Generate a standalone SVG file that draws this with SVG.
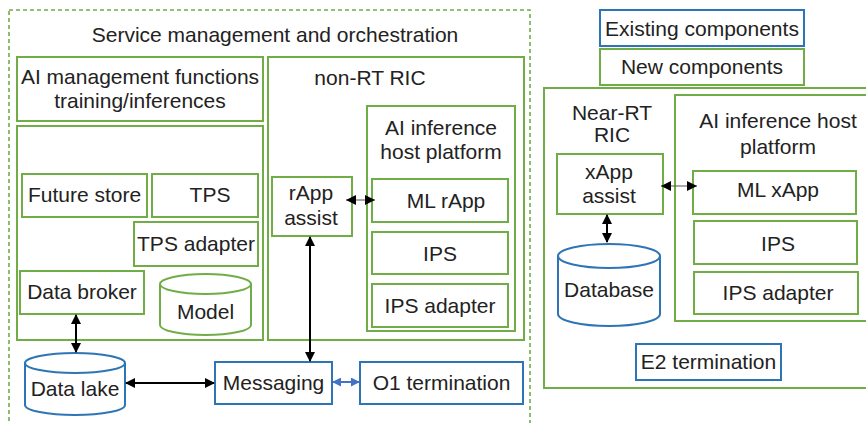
<svg xmlns="http://www.w3.org/2000/svg" width="866" height="423" viewBox="0 0 866 423">
  <style>
    .g { fill: #fff; stroke: #70AD47; stroke-width: 2; }
    .b { fill: #fff; stroke: #2E75B6; stroke-width: 2; }
    .dash { fill: none; stroke: #70AD47; stroke-width: 1.6; stroke-dasharray: 4 3; }
    text { font-family: "Liberation Sans", Arial, sans-serif; font-size: 21px; fill: #222; text-anchor: middle; }
    .c { fill: none; stroke: #000; stroke-width: 2; }
    .thin { fill: none; stroke: #555; stroke-width: 1; }
    .cb { fill: none; stroke: #4472C4; stroke-width: 2; }
  </style>
  <defs>
    <marker id="ah" viewBox="0 0 10 10" refX="9" refY="5" markerWidth="5" markerHeight="5" orient="auto-start-reverse" markerUnits="strokeWidth">
      <path d="M0,0 L10,5 L0,10 z" fill="#000"/>
    </marker>
    <marker id="ahs" viewBox="0 0 10 10" refX="10" refY="5" markerWidth="10" markerHeight="10" orient="auto-start-reverse" markerUnits="userSpaceOnUse">
      <path d="M0,0 L10,5 L0,10 z" fill="#000"/>
    </marker>
    <marker id="ahb" viewBox="0 0 10 10" refX="9" refY="5" markerWidth="4.5" markerHeight="4.5" orient="auto-start-reverse" markerUnits="strokeWidth">
      <path d="M0,0 L10,5 L0,10 z" fill="#4472C4"/>
    </marker>
  </defs>

  <!-- Service management and orchestration frame -->
  <g id="smo">
    <rect class="dash" x="9" y="10" width="521" height="430"/>
    <text x="275" y="42">Service management and orchestration</text>
  </g>

  <g id="ai-mgmt">
    <rect class="g" x="17" y="57" width="246" height="64"/>
    <text x="140" y="84">AI management functions</text>
    <text x="140" y="108">training/inferences</text>
  </g>

  <g id="ai-mgmt-body">
    <rect class="g" x="17" y="126" width="246" height="214"/>
  </g>

  <g id="future-store">
    <rect class="g" x="22" y="174" width="125" height="43"/>
    <text x="84.5" y="202">Future store</text>
  </g>
  <g id="tps">
    <rect class="g" x="152" y="174" width="106" height="43"/>
    <text x="210" y="202">TPS</text>
  </g>
  <g id="tps-adapter">
    <rect class="g" x="134" y="222" width="124" height="44"/>
    <text x="196" y="251">TPS adapter</text>
  </g>
  <g id="data-broker">
    <rect class="g" x="20" y="271" width="124" height="43"/>
    <text x="82" y="299">Data broker</text>
  </g>
  <g id="model">
    <path class="g" d="M160,284 A45.5,10 0 0 1 251,284 L251,325 A45.5,10 0 0 1 160,325 Z"/>
    <path class="g" d="M160,284 A45.5,10 0 0 0 251,284" fill="none"/>
    <text x="205.5" y="319">Model</text>
  </g>

  <g id="data-lake">
    <path class="b" d="M25,363 A50,10 0 0 1 125,363 L125,405 A50,10 0 0 1 25,405 Z"/>
    <path class="b" d="M25,363 A50,10 0 0 0 125,363" fill="none"/>
    <text x="75" y="396">Data lake</text>
  </g>

  <g id="messaging">
    <rect class="b" x="215" y="362" width="117" height="42"/>
    <text x="273.5" y="390">Messaging</text>
  </g>
  <g id="o1-termination">
    <rect class="b" x="360" y="362" width="163" height="42"/>
    <text x="441.5" y="390">O1 termination</text>
  </g>

  <!-- non-RT RIC -->
  <g id="non-rt-ric">
    <rect class="g" x="268" y="57" width="256" height="283"/>
    <text x="370" y="85">non-RT RIC</text>
  </g>
  <g id="ai-host-nonrt">
    <rect class="g" x="367" y="106" width="148" height="225"/>
    <text x="441" y="135">AI inference</text>
    <text x="441" y="159">host platform</text>
  </g>
  <g id="ml-rapp">
    <rect class="g" x="372" y="179" width="136" height="43"/>
    <text x="446" y="208">ML rApp</text>
  </g>
  <g id="ips-nonrt">
    <rect class="g" x="372" y="232" width="136" height="42"/>
    <text x="440" y="261">IPS</text>
  </g>
  <g id="ips-adapter-nonrt">
    <rect class="g" x="372" y="284" width="136" height="43"/>
    <text x="440" y="313">IPS adapter</text>
  </g>
  <g id="rapp-assist">
    <rect class="g" x="272" y="177" width="80" height="59"/>
    <text x="311" y="200">rApp</text>
    <text x="311" y="225">assist</text>
  </g>

  <!-- Legend -->
  <g id="legend-existing">
    <rect class="b" x="600" y="10" width="204" height="36"/>
    <text x="702" y="36">Existing components</text>
  </g>
  <g id="legend-new">
    <rect class="g" x="600" y="49" width="204" height="36"/>
    <text x="702" y="74">New components</text>
  </g>

  <!-- Near-RT RIC -->
  <g id="near-rt-ric">
    <rect class="g" x="544" y="88" width="340" height="300"/>
    <text x="612" y="120">Near-RT</text>
    <text x="612" y="142">RIC</text>
  </g>
  <g id="ai-host-nearrt">
    <rect class="g" x="675" y="95" width="210" height="226"/>
    <text x="778" y="128">AI inference host</text>
    <text x="778" y="154">platform</text>
  </g>
  <g id="xapp-assist">
    <rect class="g" x="557" y="154" width="106" height="60"/>
    <text x="609" y="179">xApp</text>
    <text x="609" y="203">assist</text>
  </g>
  <g id="ml-xapp">
    <rect class="g" x="693" y="171" width="163" height="43"/>
    <text x="778" y="197">ML xApp</text>
  </g>
  <g id="ips-nearrt">
    <rect class="g" x="694" y="221" width="163" height="43"/>
    <text x="778" y="251">IPS</text>
  </g>
  <g id="ips-adapter-nearrt">
    <rect class="g" x="694" y="272" width="164" height="42"/>
    <text x="778" y="300">IPS adapter</text>
  </g>
  <g id="database">
    <path class="b" d="M558,256 A51,12 0 0 1 660,256 L660,314 A51,12 0 0 1 558,314 Z"/>
    <path class="b" d="M558,256 A51,12 0 0 0 660,256" fill="none"/>
    <text x="609" y="297">Database</text>
  </g>
  <g id="e2-termination">
    <rect class="b" x="636" y="344" width="145" height="36"/>
    <text x="708.5" y="369">E2 termination</text>
  </g>

  <!-- Connectors -->
  <g id="connectors">
    <line class="c" x1="76" y1="315" x2="76" y2="352" marker-start="url(#ah)" marker-end="url(#ah)"/>
    <line class="c" x1="126" y1="383" x2="214" y2="383" marker-start="url(#ah)" marker-end="url(#ah)"/>
    <line class="c" x1="310" y1="237" x2="310" y2="361" marker-start="url(#ah)" marker-end="url(#ah)"/>
    <line class="thin" x1="346" y1="200" x2="375" y2="200" marker-start="url(#ahs)" marker-end="url(#ahs)"/>
    <line class="cb" x1="333" y1="382" x2="359" y2="382" marker-start="url(#ahb)" marker-end="url(#ahb)"/>
    <line class="thin" x1="661" y1="186" x2="697" y2="186" marker-start="url(#ahs)" marker-end="url(#ahs)"/>
    <line class="c" x1="607" y1="215" x2="607" y2="242" stroke-width="1.6" marker-start="url(#ah)" marker-end="url(#ah)"/>
  </g>
</svg>
